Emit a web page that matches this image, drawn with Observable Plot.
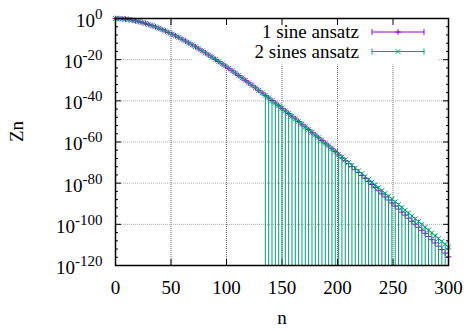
<!DOCTYPE html>
<html><head><meta charset="utf-8">
<script src="https://cdn.jsdelivr.net/npm/d3@7"></script>
<script src="https://cdn.jsdelivr.net/npm/@observablehq/plot@0.6"></script>
<style>body{margin:0;background:#fff}</style>
</head><body><div id="chart"></div>
<script>
// n grid (every 3rd value of n)
const nValues = d3.range(0, 301, 3);
// log10(Zn)
const greenLog10 = [
  0, -0.03, -0.13, -0.29, -0.51, -0.78, -1.11, -1.49, -1.92, -2.39,
  -2.91, -3.47, -4.06, -4.70, -5.37, -6.08, -6.82, -7.59, -8.39, -9.22,
  -10.07, -10.95, -11.86, -12.79, -13.74, -14.71, -15.70, -16.71, -17.74, -18.79,
  -19.85, -20.93, -22.02, -23.13, -24.25, -25.39, -26.54, -27.70, -28.87, -30.05,
  -31.24, -32.44, -33.65, -34.87, -36.10, -37.33, -38.58, -39.83, -41.08, -42.35,
  -43.62, -44.89, -46.17, -47.46, -48.75, -50.05, -51.35, -52.66, -53.97, -55.28,
  -56.60, -57.92, -59.25, -60.57, -61.91, -63.24, -64.58, -65.92, -67.26, -68.61,
  -69.95, -71.30, -72.66, -74.01, -75.37, -76.72, -78.08, -79.45, -80.81, -82.17,
  -83.54, -84.91, -86.27, -87.64, -89.02, -90.39, -91.76, -93.14, -94.51, -95.89,
  -97.26, -98.64, -100.02, -101.40, -102.78, -104.16, -105.54, -106.93, -108.31, -109.69,
  -111.08
];
const purpleLog10 = [
  0, -0.03, -0.13, -0.29, -0.51, -0.78, -1.11, -1.49, -1.92, -2.39,
  -2.91, -3.47, -4.06, -4.70, -5.37, -6.08, -6.82, -7.59, -8.39, -9.22,
  -10.07, -10.95, -11.86, -12.79, -13.74, -14.71, -15.70, -16.71, -17.74, -18.79,
  -19.85, -20.93, -22.02, -23.13, -24.25, -25.39, -26.54, -27.70, -28.87, -30.05,
  -31.24, -32.44, -33.65, -34.87, -36.10, -37.33, -38.58, -39.83, -41.08, -42.35,
  -43.62, -44.89, -46.17, -47.46, -48.75, -50.05, -51.35, -52.66, -53.97, -55.28,
  -56.60, -57.92, -59.25, -60.57, -61.91, -63.24, -64.58, -66.22, -67.66, -69.06,
  -70.45, -71.90, -73.36, -74.81, -76.27, -77.72, -79.18, -80.65, -82.16, -83.67,
  -85.14, -86.66, -88.17, -89.64, -91.12, -92.59, -94.06, -95.54, -97.01, -98.49,
  -99.96, -101.44, -102.92, -104.40, -105.93, -107.46, -109.04, -110.63, -112.26, -113.99,
  -115.78
];
// relative error of the 2-sines series (>= 1 means the lower bar goes below the axis)
const greenRelErr = [
  0.05, 0.05, 0.05, 0.05, 0.05, 0.05, 0.05, 0.05, 0.05, 0.05,
  0.05, 0.05, 0.05, 0.05, 0.05, 0.05, 0.05, 0.05, 0.05, 0.05,
  0.05, 0.05, 0.05, 0.05, 0.05, 0.05, 0.05, 0.05, 0.05, 0.05,
  0.05, 0.05, 0.05, 0.05, 0.05, 0.05, 0.05, 0.05, 0.05, 0.05,
  0.05, 0.05, 0.05, 0.05, 0.05, 2, 2, 2, 2, 2,
  2, 2, 2, 2, 2, 2, 2, 2, 2, 2,
  2, 2, 2, 2, 2, 2, 2, 2, 2, 2,
  2, 2, 2, 2, 2, 2, 2, 2, 2, 2,
  2, 2, 2, 2, 2, 2, 2, 2, 2, 2,
  2, 2, 2, 2, 2, 2, 2, 2, 2, 2,
  2
];
const xTicks = [0, 50, 100, 150, 200, 250, 300];
const yTickExps = [0, -20, -40, -60, -80, -100, -120];
const seriesNames = ["1 sine ansatz", "2 sines ansatz"];
const seriesColors = ["#9400d3", "#009e73"];

const yMin = 1e-120;
const purple = nValues.map((n, i) => ({n, z: 10 ** purpleLog10[i]}));
const green = nValues.map((n, i) => {
  const z = 10 ** greenLog10[i];
  return {n, z, lo: Math.max(z * (1 - greenRelErr[i]), yMin), hi: z * (1 + greenRelErr[i])};
});
const yMajor = yTickExps.map(e => 10 ** e);
const yMinor = d3.range(-120, 1, 4).filter(e => e % 20 !== 0).map(e => 10 ** e);
const xGrid = xTicks.slice(1, -1);
const yGrid = yMajor.slice(1, -1);
const font = "'Liberation Serif', 'Times New Roman', Times, serif";
const none = () => "";

const plot = Plot.plot({
  width: 468, height: 331,
  marginLeft: 115, marginRight: 20, marginTop: 18, marginBottom: 66,
  style: {fontFamily: font, fontSize: "19px", background: "white", color: "black"},
  x: {domain: [0, 300]},
  y: {type: "log", domain: [yMin, 1]},
  marks: [
    Plot.ruleX(xGrid, {stroke: "#666", strokeWidth: 1, strokeDasharray: "1,1"}),
    Plot.ruleY(yGrid, {stroke: "#aaa", strokeWidth: 1, strokeDasharray: "1,1"}),
    Plot.frame({fill: "white", stroke: null, insetLeft: 77, insetRight: 11, insetBottom: 201, insetTop: 1}),
    Plot.axisX(xTicks, {anchor: "bottom", label: null, tickSize: -6, tickPadding: 21, fontSize: 19, tickFormat: d => String(d)}),
    Plot.axisX(xTicks, {anchor: "top", label: null, tickSize: -6, tickFormat: none}),
    Plot.axisY(yMajor, {anchor: "left", label: null, tickSize: 0, tickPadding: 13, dy: 2.3, fontSize: 19,
      tickFormat: d => String(Math.round(Math.log10(d)))}),
    Plot.axisY(yMajor, {anchor: "left", label: null, tickSize: -6, tickFormat: none}),
    Plot.axisY(yMajor, {anchor: "right", label: null, tickSize: -6, tickFormat: none}),
    Plot.axisY(yMinor, {anchor: "left", label: null, tickSize: -3, tickFormat: none}),
    Plot.axisY(yMinor, {anchor: "right", label: null, tickSize: -3, tickFormat: none}),
    Plot.dot(purple, {x: "n", y: "z", symbol: "plus", r: 2, stroke: seriesColors[0], strokeWidth: 1}),
    Plot.ruleX(green.filter(d => d.lo <= yMin), {x: "n", y1: "lo", y2: "hi", stroke: seriesColors[1], strokeWidth: 1}),
    Plot.dot(green, {x: "n", y: "z", symbol: "times", r: 2.3, stroke: seriesColors[1], strokeWidth: 1}),
    Plot.frame({stroke: "black", strokeWidth: 1.5}),
    Plot.text(["Zn"], {frameAnchor: "left", dx: -99, rotate: -90, fontSize: 19}),
    Plot.text(["n"], {frameAnchor: "bottom", dy: 58, fontSize: 19})
  ]
});

// superscript exponents on y tick labels; drop the empty labels of tick-only axes
d3.select(plot).selectAll('g[aria-label="y-axis tick label"] text, g[aria-label="x-axis tick label"] text').each(function () {
  if (this.textContent === "") this.remove();
});
d3.select(plot).selectAll('g[aria-label="y-axis tick label"] text').each(function () {
  const e = this.textContent;
  this.textContent = "10";
  d3.select(this).append("tspan").attr("dy", -8).attr("font-size", 15).text(e);
});

// key
const key = d3.select(plot).append("g").attr("font-family", font).attr("font-size", 19);
seriesNames.forEach((name, i) => {
  const y = 32 + i * 19.5;
  key.append("text").attr("x", 359).attr("y", y + 6.3).attr("text-anchor", "end").text(name);
  key.append("path")
    .attr("d", `M372,${y}H424M372,${y - 3}V${y + 3}M424,${y - 3}V${y + 3}`)
    .attr("stroke", seriesColors[i]).attr("fill", "none");
  key.append("path")
    .attr("d", d3.symbol(i ? d3.symbolTimes : d3.symbolPlus, i ? 16.6 : 12.6)())
    .attr("transform", `translate(398,${y})`)
    .attr("stroke", seriesColors[i]).attr("fill", "none");
});

document.getElementById("chart").appendChild(plot);
</script>
</body></html>
